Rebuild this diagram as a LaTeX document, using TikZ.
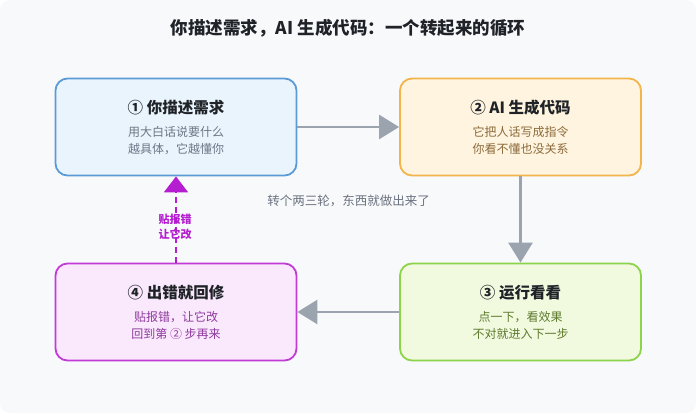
\documentclass[tikz,border=0pt]{standalone}
\usepackage{fontspec}
\setmainfont{Noto Sans CJK SC}
\usepackage{xcolor}
\usepackage{tikz}
\usetikzlibrary{arrows.meta}
\definecolor{bgpanel}{HTML}{F8F9FB}
\definecolor{inkdark}{HTML}{1F2328}
\definecolor{flowgray}{HTML}{9BA3AF}
\definecolor{fixpurple}{HTML}{B51ED0}
\definecolor{notegray}{HTML}{6B7280}
\definecolor{describeline}{HTML}{5B9BD5}
\definecolor{describefill}{HTML}{EAF4FD}
\definecolor{describenote}{HTML}{6B7785}
\definecolor{generateline}{HTML}{F2B44B}
\definecolor{generatefill}{HTML}{FFF4DF}
\definecolor{generatenote}{HTML}{8B6A3A}
\definecolor{runline}{HTML}{8CD44A}
\definecolor{runfill}{HTML}{F1FADF}
\definecolor{runnote}{HTML}{5E7A2E}
\definecolor{fixline}{HTML}{C23BD6}
\definecolor{fixfill}{HTML}{FAE8FC}
\definecolor{fixnote}{HTML}{8E3A9E}
\tikzstyle{node:step}=[draw,line width=1.8pt,rounded corners=12pt,minimum width=241pt,minimum height=97pt,align=center,inner sep=0pt]
\tikzstyle{node:describe}=[node:step,draw=describeline,fill=describefill]
\tikzstyle{node:generate}=[node:step,draw=generateline,fill=generatefill]
\tikzstyle{node:run}=[node:step,draw=runline,fill=runfill]
\tikzstyle{node:fix}=[node:step,draw=fixline,fill=fixfill]
\tikzstyle{draw:flow}=[-{Triangle[length=20pt,width=24pt]},line width=2.6pt,flowgray]
\tikzstyle{draw:back}=[-{Triangle[length=16pt,width=24pt]},line width=2pt,fixpurple,dash pattern=on 6pt off 4pt]
\newcommand{\steptitle}{\fontsize{15.5}{18}\selectfont\bfseries\color{inkdark}}
\newcommand{\stepnote}[1]{\fontsize{12}{14}\selectfont\color{#1}}

\begin{document}
\begin{tikzpicture}[x=1pt,y=-1pt]
        % Background
        \fill[white] (0,0) rectangle (696,413);
        \fill[bgpanel,rounded corners=10pt] (0,0) rectangle (696,413);
        \useasboundingbox (0,0) rectangle (696,413);

        % Title
        \node[font=\fontsize{17.5}{20}\selectfont\bfseries,text=inkdark] (title) at (348,28) {你描述需求，AI 生成代码：一个转起来的循环};

        % Steps
        \node[node:describe] (s1) at (176,127) {\steptitle ① 你描述需求\\[11pt]\stepnote{describenote}用大白话说要什么\\[5pt]\stepnote{describenote}越具体，它越懂你};
        \node[node:generate] (s2) at (520.5,127) {\steptitle ② AI 生成代码\\[11pt]\stepnote{generatenote}它把人话写成指令\\[5pt]\stepnote{generatenote}你看不懂也没关系};
        \node[node:run] (s3) at (520.5,312) {\steptitle ③ 运行看看\\[11pt]\stepnote{runnote}点一下，看效果\\[5pt]\stepnote{runnote}不对就进入下一步};
        \node[node:fix] (s4) at (176,312) {\steptitle ④ 出错就回修\\[11pt]\stepnote{fixnote}贴报错，让它改\\[5pt]\stepnote{fixnote}回到第 ② 步再来};

        % draw:flow between steps
        \draw[draw:flow] (s1) -- (s2);
        \draw[draw:flow] (s2) -- (s3);
        \draw[draw:flow] (s3) -- (s4);
        \draw[draw:back] (s4) -- (s1);

        % Labels
        \node[font=\fontsize{11}{15}\selectfont\bfseries,text=fixpurple,align=center] (fixlabel) at (175,227) {贴报错\\让它改};
        \node[font=\fontsize{12.5}{15}\selectfont,text=notegray] (roundnote) at (348.5,201) {转个两三轮，东西就做出来了};

    \end{tikzpicture}
\end{document}
